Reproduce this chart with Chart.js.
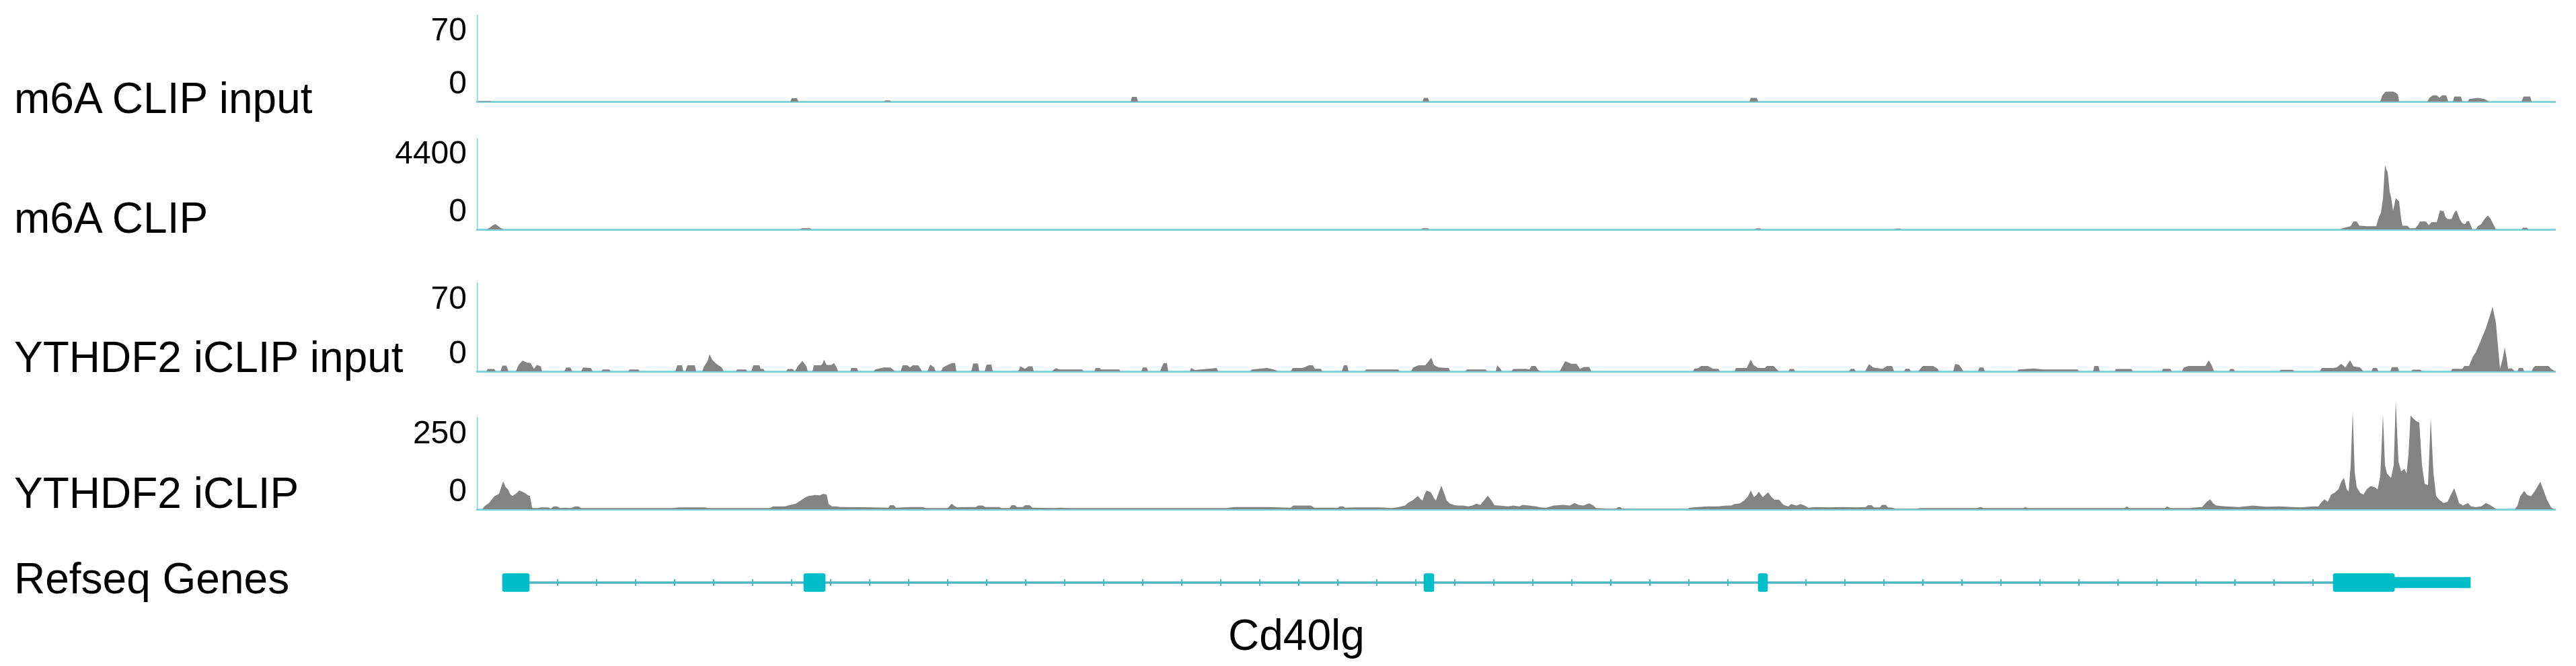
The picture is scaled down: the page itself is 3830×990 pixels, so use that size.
<!DOCTYPE html>
<html>
<head>
<meta charset="utf-8">
<script src="https://cdn.jsdelivr.net/npm/chart.js@4"></script>
<style>
  html, body { margin: 0; padding: 0; background: #fff; }
  body { width: 3830px; height: 990px; position: relative; overflow: hidden;
         font-family: "Liberation Sans", Arial, sans-serif; }
  .lbl { position: absolute; left: 21px; font-size: 64px; line-height: 64px; color: #000; white-space: nowrap; }
  .trk { position: absolute; left: 400px; width: 3400px; }
  .trk canvas { display: block; }
</style>
</head>
<body>
<div id="labels"></div>
<div id="tracks"></div>
<script>
// ---------- data (positions = offset along the locus, 0..3091) ----------
const REGION_END = 3091;

const trackNames = ["m6A CLIP input", "m6A CLIP", "YTHDF2 iCLIP input", "YTHDF2 iCLIP"];
const trackMax   = [70, 4400, 70, 250];

const m6aInput = [[0,0],[4,0.6],[20,0.6],[22,0],
  [466,0],[468,2.7],[476,2.7],[478,0],[605,0],[607,1],[614,1],[616,0],
  [972,0],[974,3.8],[981,3.8],[983,0],[1406,0],[1408,3],[1414,3],[1416,0],
  [1892,0],[1894,3],[1903,3],[1905,0],
  [2830,0],[2833,5],[2838,8],[2850,8],[2856,6],[2858,0],
  [2900,0],[2903,3],[2908,5],[2914,5],[2918,3],[2922,5],[2928,5],[2931,0],
  [2938,0],[2940,4],[2950,4],[2952,0],[2960,0],[2962,2],[2975,3],[2985,2],[2992,0],
  [3040,0],[3043,4],[3053,4],[3055,0],[3091,0]];

const m6aClip = [[0,0],[15,0],[19,80],[24,200],[28,250],[32,150],[36,60],[40,0],
  [480,0],[483,60],[495,60],[498,0],[1404,0],[1406,60],[1414,60],[1416,0],
  [1900,0],[1902,50],[1908,50],[1910,0],[2108,0],[2110,40],[2116,40],[2118,0],
  [2770,0],[2774,60],[2779,100],[2786,150],[2790,380],[2795,380],[2799,180],[2810,150],[2824,150],
  [2827,500],[2831,810],[2834,1500],[2837,3090],[2839,2900],[2841,2750],[2844,1800],[2846,1560],
  [2849,900],[2853,1510],[2856,1400],[2858,1350],[2861,500],[2863,180],[2870,180],[2874,60],[2882,60],
  [2886,200],[2889,380],[2898,380],[2902,200],[2906,350],[2914,350],[2917,700],[2919,925],[2922,880],
  [2924,900],[2927,600],[2930,500],[2936,500],[2940,800],[2943,925],[2946,700],[2948,500],[2952,300],
  [2956,250],[2959,400],[2962,400],[2965,150],[2967,0],[2972,0],[2975,150],[2980,250],[2985,500],
  [2990,670],[2994,500],[2998,250],[3002,0],[3040,0],[3042,80],[3048,80],[3050,0],[3091,0]];

const ythInput = [[0,0],[14,0],[16,1.8],[26,1.8],[28,0],[35,0],[38,4.5],[44,4.5],[47,0],
  [58,0],[62,5],[68,8.5],[74,7],[80,6.5],[85,2],[89,5],[95,4],[97,0],
  [130,0],[133,3],[139,3],[142,0],[155,0],[158,3],[170,2.5],[172,0],
  [185,0],[187,1.5],[197,1.5],[199,0],[225,0],[227,1.5],[240,1.5],[242,0],
  [295,0],[298,4.8],[305,4.8],[307,0],[310,0],[313,4.8],[324,4.8],[326,0],
  [335,0],[338,4],[343,8],[346,13.5],[350,9],[356,6],[364,3],[367,0],
  [385,0],[387,1.5],[400,1.5],[402,0],[408,0],[411,4.8],[420,4.8],[422,2],[426,2],[428,0],
  [460,0],[462,1.8],[470,1.8],[472,0],[473,0],[477,4],[484,8.3],[490,4],[492,0],
  [499,0],[501,4.8],[511,4.8],[514,6],[516,9.2],[520,5],[527,5],[531,6.5],[535,3],[537,0],
  [555,0],[557,2.7],[565,2.7],[567,0],[590,0],[592,1.5],[605,3],[615,3],[622,0],
  [630,0],[633,4.8],[640,4.8],[644,3],[648,4.8],[656,4.8],[660,2],[662,0],
  [670,0],[674,5.3],[680,3],[682,0],[690,0],[693,3],[700,5],[706,6.5],[711,6.5],[713,0],
  [735,0],[738,6.2],[745,6.2],[747,0],[755,0],[758,5.3],[765,5.3],[767,0],
  [805,0],[808,4],[815,2],[820,4],[826,4],[828,0],
  [855,0],[858,1.5],[861,2.5],[866,1.5],[900,1.5],[902,0],
  [918,0],[920,2.7],[926,2.7],[928,1.5],[955,1.5],[957,0],
  [988,0],[990,3],[996,3],[998,0],[1016,0],[1018,3],[1021,6.5],[1026,6.5],[1028,0],
  [1060,0],[1062,2.7],[1068,1],[1100,2.7],[1102,0],
  [1150,0],[1152,1.5],[1175,2.7],[1185,1.5],[1192,0],
  [1210,0],[1213,2.7],[1228,2.7],[1237,4.8],[1243,4.8],[1246,2],[1255,2],[1257,0],
  [1286,0],[1289,4.8],[1294,4.8],[1296,0],[1320,0],[1322,1.5],[1370,1.5],[1372,0],
  [1389,0],[1392,3],[1400,4.8],[1410,4.8],[1415,8],[1419,10.8],[1423,5],[1430,3],[1445,2.7],[1447,0],
  [1470,0],[1472,1.5],[1500,1.5],[1502,0],[1515,0],[1517,4.8],[1522,2],[1524,0],
  [1538,0],[1541,1.8],[1560,2],[1565,1.5],[1568,4.3],[1574,4.3],[1578,1],[1582,0],
  [1610,0],[1613,3],[1618,8],[1623,7],[1627,6],[1635,6],[1640,2],[1646,3.5],[1654,3.5],[1657,0],
  [1808,0],[1810,2],[1816,2.5],[1820,4.3],[1830,4.3],[1838,2],[1846,2],[1848,0],
  [1870,0],[1872,2.7],[1888,2.7],[1891,6],[1894,9.2],[1898,5],[1905,2.7],[1915,2.7],[1918,4.3],[1928,4.3],[1932,2],[1936,0],
  [1950,0],[1952,1.8],[1958,1.8],[1960,0],[2040,0],[2043,2],[2048,2],[2050,0],
  [2064,0],[2067,3],[2070,5.7],[2076,3],[2090,2],[2097,4.3],[2104,4.3],[2107,0],
  [2122,0],[2124,2],[2130,2],[2132,0],[2143,0],[2146,2],[2150,4.3],[2165,4.3],[2172,2],[2174,0],
  [2195,0],[2198,6],[2204,5],[2208,2],[2210,0],[2232,0],[2234,3],[2240,3],[2242,0],
  [2290,0],[2292,1.5],[2315,2.2],[2330,1.5],[2380,1.5],[2382,0],
  [2403,0],[2405,4.3],[2411,4.3],[2413,0],[2435,0],[2437,1.8],[2460,1.8],[2462,0],
  [2505,0],[2507,2],[2518,2],[2520,0],
  [2535,0],[2538,3],[2545,4.3],[2570,4.3],[2575,8.8],[2579,5],[2583,0],
  [2605,0],[2607,1.8],[2612,1.8],[2614,0],[2680,0],[2682,1.2],[2700,1.2],[2702,0],
  [2740,0],[2743,2.7],[2760,2.7],[2765,3],[2772,6],[2778,3],[2785,8.8],[2790,4],[2800,3],[2805,0],
  [2817,0],[2819,2.7],[2825,2.7],[2827,0],[2845,0],[2847,3.3],[2856,3.3],[2858,0],
  [2876,0],[2878,1.3],[2890,1.3],[2892,0],
  [2935,0],[2937,2],[2952,2],[2955,4.3],[2962,4.3],[2968,12],[2972,15],[2980,25],[2987,34],
  [2993,44],[2997,51],[3002,38],[3005,20],[3008,2],[3012,10],[3015,19],[3018,10],[3020,2],[3025,2.5],[3030,0],
  [3034,0],[3036,2.7],[3042,2.7],[3044,0],[3055,0],[3057,2.5],[3060,4.3],[3080,4.3],[3084,2],[3090,0],[3091,0]];

const ythClip = [[0,0],[8,0],[11,8],[18,17],[26,35],[33,42],[39,76],[43,60],[46,55],[50,40],[53,36],
  [58,42],[63,51],[71,45],[76,38],[79,36],[82,5],[84,3],[90,3],[95,5],[106,5],[110,2],[114,8],[119,8],
  [124,3],[131,4],[140,3],[146,8],[151,8],[155,3],[200,3],[260,3],[291,3],[300,5],[339,5],[345,3],
  [400,3],[435,3],[438,5],[440,8],[458,8],[466,12],[474,15],[480,22],[484,27],[490,34],[493,36],
  [500,38],[503,39],[510,38],[515,42],[520,40],[523,14],[528,8],[535,8],[540,6],[548,6],[588,5],
  [612,4],[614,11],[620,11],[623,4],[643,6],[663,6],[668,3],[700,3],[703,9],[706,15],[710,9],[714,5],
  [727,6],[742,6],[745,10],[752,10],[756,6],[777,6],[780,3],[792,3],[795,11],[800,11],[803,6],
  [812,6],[815,11],[822,11],[826,4],[860,3],[867,4],[880,3],[1000,3],[1115,3],[1125,6],[1175,6],
  [1210,4],[1214,10],[1240,10],[1245,4],[1280,4],[1283,8],[1288,8],[1291,4],[1304,5],[1344,5],
  [1360,3],[1368,5],[1380,10],[1384,17],[1392,25],[1399,36],[1403,28],[1406,24],[1409,40],[1412,51],
  [1416,48],[1419,45],[1423,30],[1426,24],[1430,45],[1434,64],[1438,45],[1442,24],[1447,15],[1454,11],
  [1460,10],[1466,10],[1474,8],[1480,10],[1486,15],[1492,12],[1498,25],[1503,37],[1508,25],[1513,11],
  [1520,10],[1533,8],[1541,10],[1550,8],[1555,12],[1565,10],[1575,8],[1581,5],[1590,4],[1601,10],
  [1615,12],[1625,10],[1632,17],[1638,12],[1645,10],[1654,16],[1660,10],[1664,3],[1680,2],[1694,2],
  [1697,6],[1700,6],[1703,2],[1720,1],[1800,1],[1803,4],[1815,6],[1830,8],[1845,8],[1858,10],
  [1865,10],[1870,14],[1878,16],[1885,25],[1890,35],[1894,51],[1897,40],[1899,33],[1903,40],[1906,48],
  [1909,40],[1912,33],[1916,40],[1920,46],[1924,35],[1929,26],[1936,26],[1941,15],[1944,11],[1950,8],
  [1954,14],[1962,10],[1968,14],[1974,10],[1980,4],[1990,6],[2010,5],[2030,6],[2050,5],[2065,6],
  [2068,11],[2074,11],[2077,5],[2086,5],[2089,12],[2095,12],[2098,5],[2105,4],[2110,1],[2140,1],
  [2146,3],[2230,3],[2236,6],[2240,3],[2300,3],[2302,6],[2306,3],[2400,3],[2450,3],[2453,8],[2457,3],
  [2510,3],[2513,8],[2518,3],[2548,3],[2550,4],[2565,6],[2572,20],[2577,27],[2582,15],[2586,10],
  [2600,8],[2620,6],[2640,10],[2660,7],[2680,8],[2700,6],[2712,5],[2730,8],[2738,8],[2743,20],
  [2747,27],[2752,20],[2757,40],[2762,45],[2768,55],[2772,75],[2776,85],[2780,55],[2783,48],[2786,120],
  [2789,266],[2792,100],[2795,60],[2800,45],[2805,40],[2810,55],[2816,63],[2822,60],[2826,54],[2830,90],
  [2834,257],[2837,120],[2840,97],[2846,85],[2850,120],[2853,295],[2857,130],[2861,103],[2866,110],
  [2869,97],[2872,150],[2875,255],[2880,245],[2883,240],[2888,236],[2892,120],[2896,69],[2901,66],
  [2905,248],[2909,100],[2913,36],[2918,25],[2924,17],[2930,20],[2935,40],[2940,57],[2944,35],[2947,17],
  [2953,10],[2960,17],[2965,8],[2972,6],[2980,8],[2987,17],[2993,12],[3000,3],[3003,0],[3030,0],
  [3034,10],[3038,35],[3044,50],[3048,40],[3054,35],[3060,50],[3068,75],[3072,55],[3078,25],[3084,5],
  [3088,0],[3091,0]];

const trackSeries = [m6aInput, m6aClip, ythInput, ythClip];

// Refseq gene model (Cd40lg)
const geneName   = "Cd40lg";
const geneExons  = [[38,78],[486,518],[1408,1423],[1905,1919],[2760,2851]];
const geneUtr3   = [[2851,2964]];
const geneIntron = [[78,2760]];

// ---------- look ----------
const GRAY = "#838383";
const AXIS = "#7fd3d9";
const GENE = "#00bec8";
const INTRON = "#4fb6bf";
const FONT = "'Liberation Sans', Arial, sans-serif";
Chart.defaults.font.family = FONT;

// page layout (px): axis top / baseline of each track
const TRACK_BOX = [{top:22, base:151}, {top:205, base:341}, {top:420, base:552}, {top:620, base:757}];
const HEADROOM = 1.2;
const LABEL_TOP = [114, 292, 499, 701];

const labels = document.getElementById("labels");
const tracks = document.getElementById("tracks");
const addLabel = (text, top, left) => {
  const d = document.createElement("div");
  d.className = "lbl"; d.textContent = text; d.style.top = top + "px";
  if (left != null) d.style.left = left + "px";
  labels.appendChild(d);
};
trackNames.forEach((n, i) => addLabel(n, LABEL_TOP[i]));
addLabel("Refseq Genes", 828);
addLabel(geneName, 912, 1826);

const makeCanvas = (top, h) => {
  const wrap = document.createElement("div");
  wrap.className = "trk"; wrap.style.top = top + "px"; wrap.style.height = h + "px";
  const c = document.createElement("canvas");
  c.width = 3400; c.height = h;
  wrap.appendChild(c); tracks.appendChild(wrap);
  return c;
};

// ---------- signal tracks ----------
trackSeries.forEach((series, i) => {
  const max = trackMax[i];
  const box = TRACK_BOX[i];
  const plotH = Math.round((box.base - box.top) * HEADROOM);
  const canvas = makeCanvas(box.base - plotH - 4, plotH + 10);
  new Chart(canvas, {
    type: "line",
    data: {
      datasets: [
        { data: series.map(([x, y]) => ({ x, y })), fill: "origin", backgroundColor: GRAY,
          borderWidth: 0, pointRadius: 0, tension: 0, clip: false },
        { data: [{ x: 0, y: 0 }, { x: 0, y: max }], borderColor: AXIS, borderWidth: 3,
          pointRadius: 0, fill: false }
      ]
    },
    options: {
      responsive: false, animation: false, devicePixelRatio: 1,
      layout: { padding: { top: 4, bottom: 6, left: 0, right: 0 } },
      plugins: { legend: { display: false }, tooltip: { enabled: false } },
      scales: {
        x: { type: "linear", min: 0, max: REGION_END,
             grid: { display: false, drawTicks: false }, ticks: { display: false },
             border: { display: true, color: AXIS, width: 3 },
             afterFit: (s) => { s.height = 0; s.paddingLeft = 0; s.paddingRight = 0; } },
        y: { min: 0, max: max * HEADROOM,
             afterBuildTicks: (s) => { s.ticks = [{ value: 0 }, { value: max }]; },
             grid: { display: false, drawTicks: false }, border: { display: false },
             ticks: { autoSkip: false, padding: 15, color: "#000",
                      font: { family: FONT, size: 48, lineHeight: 1.04 },
                      callback: (v) => v === max ? ["", String(v)] : [String(v), ""] },
             afterFit: (s) => { s.width = 309; s.paddingTop = 0; s.paddingBottom = 0; } }
      }
    }
  });
});

// ---------- gene track ----------
const strandTicks = {
  id: "strandTicks",
  afterDatasetsDraw(chart) {
    const { ctx, scales: { x, y } } = chart;
    const cy = y.getPixelForValue(0);
    const [s, e] = geneIntron[0];
    const x0 = x.getPixelForValue(s), x1 = x.getPixelForValue(e);
    const inExon = (px) => geneExons.some(([a, b]) =>
      px > x.getPixelForValue(a) - 6 && px < x.getPixelForValue(b) + 6);
    ctx.save();
    ctx.strokeStyle = INTRON; ctx.lineWidth = 2;
    for (let px = x0 + 42; px < x1 - 6; px += 58) {
      if (inExon(px)) continue;
      ctx.beginPath(); ctx.moveTo(px, cy - 5); ctx.lineTo(px, cy + 5); ctx.stroke();
    }
    ctx.restore();
  }
};

const geneCanvas = makeCanvas(820, 92);
const toBars = (list) => list.map(([a, b]) => ({ x: [a, b], y: 0 }));
new Chart(geneCanvas, {
  type: "bar",
  data: {
    datasets: [
      { data: toBars(geneExons), backgroundColor: GENE, barThickness: 27, maxBarThickness: 27,
        borderRadius: 3, borderSkipped: false, grouped: false },
      { data: toBars(geneUtr3), backgroundColor: GENE, barThickness: 16, maxBarThickness: 16,
        borderSkipped: false, grouped: false },
      { data: toBars(geneIntron), backgroundColor: INTRON, barThickness: 3, maxBarThickness: 3,
        borderSkipped: false, grouped: false }
    ]
  },
  options: {
    indexAxis: "y", responsive: false, animation: false, devicePixelRatio: 1,
    layout: { padding: { left: 309, right: 0, top: 0, bottom: 0 } },
    plugins: { legend: { display: false }, tooltip: { enabled: false } },
    scales: {
      x: { type: "linear", min: 0, max: REGION_END, display: false },
      y: { type: "linear", min: -1, max: 1, display: false,
           afterBuildTicks: (s) => { s.ticks = [{ value: -1 }, { value: 1 }]; } }
    }
  },
  plugins: [strandTicks]
});
</script>
</body>
</html>
